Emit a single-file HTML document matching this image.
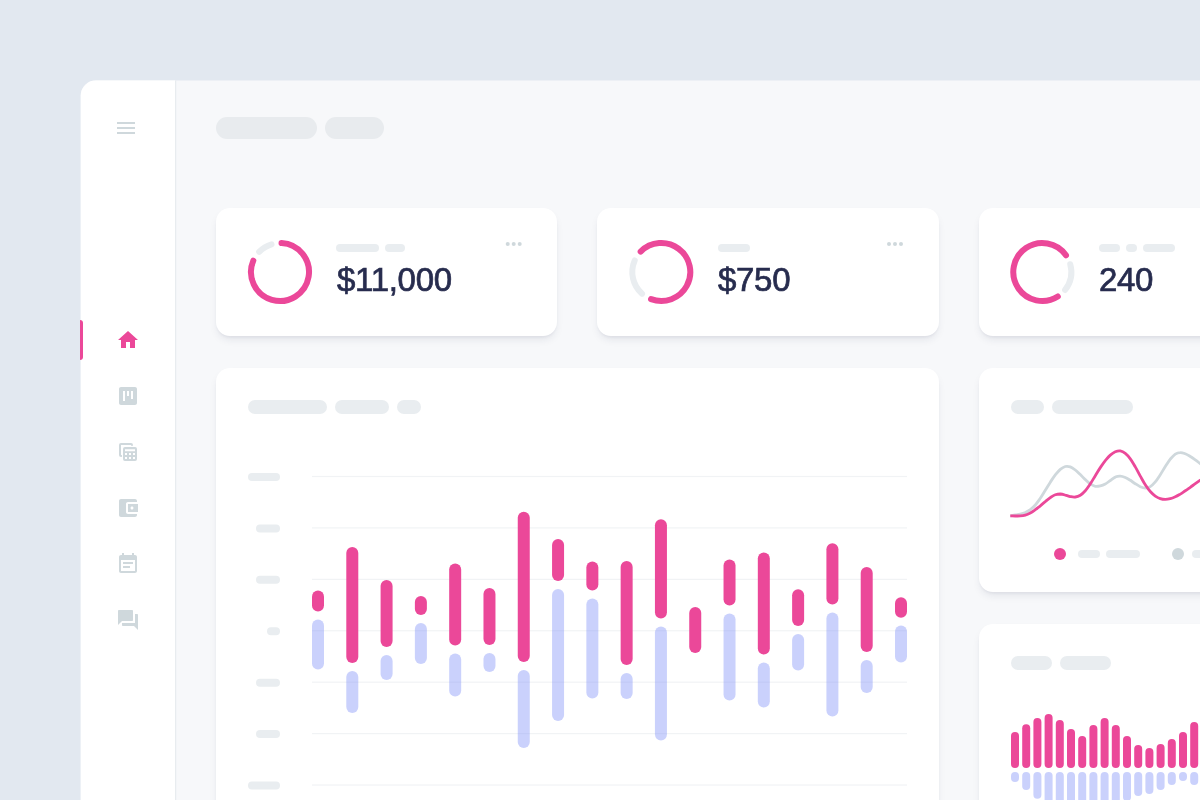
<!DOCTYPE html>
<html lang="en"><head><meta charset="utf-8"><title>Dashboard</title>
<style>
html,body{margin:0;padding:0}
body{width:1200px;height:800px;overflow:hidden;background:#E2E8F0;position:relative;font-family:"Liberation Sans",sans-serif}
.abs{position:absolute}
.panel{position:absolute;left:80.7px;top:80.45px;width:1140px;height:740px;background:#F7F8FA;border-top-left-radius:15px;overflow:hidden}
.side{position:absolute;left:0;top:0;width:94.6px;height:100%;background:#fff;border-right:1.1px solid #E6EAEE}
.card{position:absolute;background:#fff;border-radius:14px;box-shadow:0 5px 9px -2px rgba(30,41,80,.10),0 2px 3px -1px rgba(30,41,80,.06)}
.pill{position:absolute;background:#E9EDF0;border-radius:99px}
.num{position:absolute;color:#272C4E;font-size:33px;line-height:32px;letter-spacing:-0.3px;white-space:nowrap;-webkit-text-stroke:0.7px #272C4E}
svg{position:absolute;left:0;top:0;overflow:visible}
</style></head><body>
<svg width="1200" height="800" viewBox="0 0 1200 800">
<path d="M95.75 80.5H1200V800H80.75V95.5A15 15 0 0 1 95.75 80.5Z" fill="#F7F8FA"/>
<path d="M95.75 80.5H175.2V800H80.75V95.5A15 15 0 0 1 95.75 80.5Z" fill="#fff"/>
<rect x="175.1" y="80.5" width="1.1" height="720" fill="#E6EAEE"/>
</svg>
<div class="abs" style="left:80px;top:320px;width:3.2px;height:40px;background:#EB4899;border-radius:0 3px 3px 0"></div>

<!-- header placeholders -->
<div class="pill" style="left:216px;top:117px;width:101px;height:22px;background:#E8EBEE"></div>
<div class="pill" style="left:325px;top:117px;width:59px;height:22px;background:#E8EBEE"></div>

<!-- stat cards -->
<div class="card" style="left:215.8px;top:207.8px;width:341.4px;height:127.8px"></div>
<div class="card" style="left:597.2px;top:207.8px;width:341.4px;height:127.8px"></div>
<div class="card" style="left:978.7px;top:207.8px;width:341.4px;height:127.8px"></div>
<div class="pill" style="left:336px;top:244px;width:43px;height:8px"></div>
<div class="pill" style="left:385px;top:244px;width:20px;height:8px"></div>
<div class="pill" style="left:717.6px;top:244px;width:32px;height:8px"></div>
<div class="pill" style="left:1098.8px;top:244px;width:21px;height:8px"></div>
<div class="pill" style="left:1125.6px;top:244px;width:11.4px;height:8px"></div>
<div class="pill" style="left:1142.7px;top:244px;width:32.3px;height:8px"></div>
<div class="num" style="left:337px;top:263.8px">$11,000</div>
<div class="num" style="left:718px;top:263.8px">$750</div>
<div class="num" style="left:1099px;top:263.8px">240</div>

<!-- main chart card -->
<div class="card" style="left:215.8px;top:367.8px;width:722.8px;height:500px"></div>
<div class="pill" style="left:248px;top:400px;width:79px;height:14px"></div>
<div class="pill" style="left:335px;top:400px;width:54px;height:14px"></div>
<div class="pill" style="left:397px;top:400px;width:24px;height:14px"></div>

<!-- right cards -->
<div class="card" style="left:978.7px;top:367.8px;width:341.4px;height:223.8px"></div>
<div class="pill" style="left:1011px;top:400px;width:33px;height:14px"></div>
<div class="pill" style="left:1052px;top:400px;width:81px;height:14px"></div>
<div class="pill" style="left:1078px;top:550px;width:22px;height:8px"></div>
<div class="pill" style="left:1106px;top:550px;width:34px;height:8px"></div>
<div class="pill" style="left:1191.6px;top:550px;width:22px;height:8px"></div>
<div class="card" style="left:978.7px;top:623.8px;width:341.4px;height:300px"></div>
<div class="pill" style="left:1011px;top:656px;width:41px;height:14px"></div>
<div class="pill" style="left:1060px;top:656px;width:51px;height:14px"></div>

<svg width="1200" height="800" viewBox="0 0 1200 800">
<!-- donuts -->
<path d="M259.14 251.85A29 29 0 0 1 271.52 244.27" fill="none" stroke="#E9EDF0" stroke-width="6" stroke-linecap="round"/>
<path d="M281.52 243.04A29 29 0 1 1 253.31 260.67" fill="none" stroke="#EB4899" stroke-width="6" stroke-linecap="round"/>
<path d="M642.05 293.69A29 29 0 0 1 634.71 260.44" fill="none" stroke="#E9EDF0" stroke-width="6" stroke-linecap="round"/>
<path d="M640.65 251.64A29 29 0 1 1 651.05 299.13" fill="none" stroke="#EB4899" stroke-width="6" stroke-linecap="round"/>
<path d="M1070.25 264.25A29 29 0 0 1 1065.06 289.97" fill="none" stroke="#E9EDF0" stroke-width="6" stroke-linecap="round"/>
<path d="M1057.80 296.51A29 29 0 1 1 1065.97 255.24" fill="none" stroke="#EB4899" stroke-width="6" stroke-linecap="round"/>
<!-- more dots -->
<g fill="#CFD8DC">
<circle cx="507.7" cy="244" r="2"/><circle cx="513.7" cy="244" r="2"/><circle cx="519.7" cy="244" r="2"/>
<circle cx="889" cy="244" r="2"/><circle cx="895" cy="244" r="2"/><circle cx="901" cy="244" r="2"/>
</g>
<!-- main chart -->
<rect x="312" y="475.90" width="595" height="1.2" fill="#F1F3F5"/>
<rect x="312" y="527.32" width="595" height="1.2" fill="#F1F3F5"/>
<rect x="312" y="578.74" width="595" height="1.2" fill="#F1F3F5"/>
<rect x="312" y="630.16" width="595" height="1.2" fill="#F1F3F5"/>
<rect x="312" y="681.58" width="595" height="1.2" fill="#F1F3F5"/>
<rect x="312" y="733.00" width="595" height="1.2" fill="#F1F3F5"/>
<rect x="312" y="784.42" width="595" height="1.2" fill="#F1F3F5"/>
<rect x="312.00" y="590.5" width="12" height="21.0" rx="6" fill="#EB4899"/>
<rect x="312.00" y="619.5" width="12" height="50.0" rx="6" fill="rgba(128,146,248,0.42)"/>
<rect x="346.29" y="547" width="12" height="116" rx="6" fill="#EB4899"/>
<rect x="346.29" y="671" width="12" height="42" rx="6" fill="rgba(128,146,248,0.42)"/>
<rect x="380.59" y="580" width="12" height="67" rx="6" fill="#EB4899"/>
<rect x="380.59" y="655" width="12" height="25" rx="6" fill="rgba(128,146,248,0.42)"/>
<rect x="414.88" y="596" width="12" height="19" rx="6" fill="#EB4899"/>
<rect x="414.88" y="623" width="12" height="41" rx="6" fill="rgba(128,146,248,0.42)"/>
<rect x="449.18" y="563.5" width="12" height="82.0" rx="6" fill="#EB4899"/>
<rect x="449.18" y="653.5" width="12" height="43.0" rx="6" fill="rgba(128,146,248,0.42)"/>
<rect x="483.47" y="588" width="12" height="57" rx="6" fill="#EB4899"/>
<rect x="483.47" y="653" width="12" height="19" rx="6" fill="rgba(128,146,248,0.42)"/>
<rect x="517.76" y="511.75" width="12" height="150.25" rx="6" fill="#EB4899"/>
<rect x="517.76" y="670" width="12" height="78" rx="6" fill="rgba(128,146,248,0.42)"/>
<rect x="552.06" y="539" width="12" height="42" rx="6" fill="#EB4899"/>
<rect x="552.06" y="589" width="12" height="132" rx="6" fill="rgba(128,146,248,0.42)"/>
<rect x="586.35" y="561.5" width="12" height="29.0" rx="6" fill="#EB4899"/>
<rect x="586.35" y="598.5" width="12" height="100.0" rx="6" fill="rgba(128,146,248,0.42)"/>
<rect x="620.65" y="561" width="12" height="104" rx="6" fill="#EB4899"/>
<rect x="620.65" y="673" width="12" height="26" rx="6" fill="rgba(128,146,248,0.42)"/>
<rect x="654.94" y="519.25" width="12" height="99.25" rx="6" fill="#EB4899"/>
<rect x="654.94" y="626.5" width="12" height="114.0" rx="6" fill="rgba(128,146,248,0.42)"/>
<rect x="689.24" y="607" width="12" height="46" rx="6" fill="#EB4899"/>
<rect x="723.53" y="559.5" width="12" height="46.0" rx="6" fill="#EB4899"/>
<rect x="723.53" y="613.5" width="12" height="87.0" rx="6" fill="rgba(128,146,248,0.42)"/>
<rect x="757.82" y="552.5" width="12" height="102.0" rx="6" fill="#EB4899"/>
<rect x="757.82" y="662.5" width="12" height="45.0" rx="6" fill="rgba(128,146,248,0.42)"/>
<rect x="792.12" y="589.25" width="12" height="36.75" rx="6" fill="#EB4899"/>
<rect x="792.12" y="634" width="12" height="36.5" rx="6" fill="rgba(128,146,248,0.42)"/>
<rect x="826.41" y="543.25" width="12" height="61.25" rx="6" fill="#EB4899"/>
<rect x="826.41" y="612.5" width="12" height="104.0" rx="6" fill="rgba(128,146,248,0.42)"/>
<rect x="860.71" y="567" width="12" height="85" rx="6" fill="#EB4899"/>
<rect x="860.71" y="660" width="12" height="33" rx="6" fill="rgba(128,146,248,0.42)"/>
<rect x="895.00" y="597.3" width="12" height="20.40000000000009" rx="6" fill="#EB4899"/>
<rect x="895.00" y="625.5" width="12" height="37.10000000000002" rx="6" fill="rgba(128,146,248,0.42)"/>
<rect x="248" y="473.00" width="32" height="8" rx="4" fill="#E9EDF0"/>
<rect x="256" y="524.42" width="24" height="8" rx="4" fill="#E9EDF0"/>
<rect x="256" y="575.84" width="24" height="8" rx="4" fill="#E9EDF0"/>
<rect x="267" y="627.26" width="13" height="8" rx="4" fill="#E9EDF0"/>
<rect x="256" y="678.68" width="24" height="8" rx="4" fill="#E9EDF0"/>
<rect x="256" y="730.10" width="24" height="8" rx="4" fill="#E9EDF0"/>
<rect x="248" y="781.52" width="32" height="8" rx="4" fill="#E9EDF0"/>
<!-- line chart -->
<path d="M1010.3 515.8C1011.1 515.7 1013.6 515.3 1015.3 515.0C1017.0 514.7 1018.6 514.5 1020.3 514.0C1022.0 513.6 1023.6 513.2 1025.3 512.5C1027.0 511.7 1028.6 510.9 1030.3 509.6C1032.0 508.4 1033.6 506.9 1035.3 505.0C1037.0 503.1 1038.6 500.7 1040.3 498.3C1042.0 495.8 1043.6 493.0 1045.3 490.3C1047.0 487.7 1048.6 484.8 1050.3 482.2C1052.0 479.6 1053.6 477.1 1055.3 474.9C1057.0 472.8 1058.6 470.8 1060.3 469.4C1062.0 468.0 1063.6 467.0 1065.3 466.5C1067.0 466.1 1068.6 466.3 1070.3 466.9C1072.0 467.5 1073.6 468.7 1075.3 470.0C1077.0 471.3 1078.6 473.0 1080.3 474.6C1082.0 476.2 1083.6 478.1 1085.3 479.6C1087.0 481.2 1088.6 482.8 1090.3 483.9C1092.0 485.0 1093.6 486.0 1095.3 486.3C1097.0 486.6 1098.6 486.3 1100.3 485.9C1102.0 485.5 1103.6 484.9 1105.3 484.0C1107.0 483.1 1108.6 481.6 1110.3 480.5C1112.0 479.3 1113.6 477.8 1115.3 477.1C1117.0 476.3 1118.6 476.0 1120.3 476.1C1122.0 476.2 1123.6 476.8 1125.3 477.5C1127.0 478.2 1128.6 479.3 1130.3 480.3C1132.0 481.4 1133.6 482.7 1135.3 483.7C1137.0 484.8 1138.6 485.9 1140.3 486.7C1142.0 487.4 1143.6 488.0 1145.3 488.0C1147.0 488.0 1148.6 487.7 1150.3 486.6C1152.0 485.6 1153.6 483.9 1155.3 481.9C1157.0 479.9 1158.6 477.2 1160.3 474.7C1162.0 472.1 1163.6 469.2 1165.3 466.6C1167.0 464.0 1168.6 461.2 1170.3 459.1C1172.0 457.1 1173.6 455.2 1175.3 454.1C1177.0 453.0 1178.6 452.6 1180.3 452.6C1182.0 452.5 1183.6 453.2 1185.3 453.8C1187.0 454.5 1188.6 455.5 1190.3 456.5C1192.0 457.5 1193.6 458.7 1195.3 459.9C1197.0 461.1 1198.6 462.4 1200.3 463.7C1202.0 465.0 1203.6 466.3 1205.3 467.5C1207.0 468.7 1209.5 470.4 1210.3 471.0" fill="none" stroke="#CFD8DC" stroke-width="2.8" stroke-linecap="butt" stroke-linejoin="round"/>
<path d="M1010.3 515.8C1011.1 515.8 1013.6 516.0 1015.3 516.0C1017.0 516.0 1018.6 516.1 1020.3 515.9C1022.0 515.8 1023.6 515.6 1025.3 515.1C1027.0 514.6 1028.6 513.9 1030.3 513.0C1032.0 512.1 1033.6 510.9 1035.3 509.7C1037.0 508.5 1038.6 507.1 1040.3 505.8C1042.0 504.4 1043.6 502.9 1045.3 501.6C1047.0 500.2 1048.6 498.8 1050.3 497.6C1052.0 496.5 1053.6 495.4 1055.3 494.8C1057.0 494.2 1058.6 494.0 1060.3 494.0C1062.0 494.1 1063.6 494.6 1065.3 495.1C1067.0 495.5 1068.6 496.2 1070.3 496.6C1072.0 496.9 1073.6 497.3 1075.3 497.0C1077.0 496.8 1078.6 496.3 1080.3 495.2C1082.0 494.2 1083.6 492.6 1085.3 490.7C1087.0 488.9 1088.6 486.4 1090.3 483.9C1092.0 481.4 1093.6 478.4 1095.3 475.7C1097.0 472.9 1098.6 470.1 1100.3 467.6C1102.0 465.1 1103.6 462.7 1105.3 460.6C1107.0 458.6 1108.6 456.6 1110.3 455.1C1112.0 453.6 1113.6 452.4 1115.3 451.7C1117.0 451.0 1118.6 450.6 1120.3 450.9C1122.0 451.2 1123.6 452.0 1125.3 453.3C1127.0 454.6 1128.6 456.5 1130.3 458.8C1132.0 461.0 1133.6 464.0 1135.3 466.9C1137.0 469.8 1138.6 473.1 1140.3 476.1C1142.0 479.1 1143.6 482.2 1145.3 484.8C1147.0 487.4 1148.6 489.7 1150.3 491.5C1152.0 493.4 1153.6 494.9 1155.3 496.1C1157.0 497.3 1158.6 498.1 1160.3 498.6C1162.0 499.2 1163.6 499.4 1165.3 499.4C1167.0 499.4 1168.6 499.1 1170.3 498.7C1172.0 498.3 1173.6 497.6 1175.3 496.8C1177.0 496.1 1178.6 495.1 1180.3 494.1C1182.0 493.1 1183.6 491.9 1185.3 490.8C1187.0 489.7 1188.6 488.5 1190.3 487.3C1192.0 486.1 1193.6 484.9 1195.3 483.7C1197.0 482.5 1198.6 481.4 1200.3 480.2C1202.0 479.0 1203.6 477.9 1205.3 476.8C1207.0 475.7 1209.5 474.0 1210.3 473.5" fill="none" stroke="#EB4899" stroke-width="2.8" stroke-linecap="butt" stroke-linejoin="round"/>
<circle cx="1060" cy="554" r="6" fill="#EB4899"/>
<circle cx="1178" cy="554" r="6" fill="#CFD8DC"/>
<!-- small bars -->
<rect x="1011.00" y="732" width="8" height="36" rx="4" fill="#EB4899"/>
<rect x="1011.00" y="772" width="8" height="10.0" rx="4" fill="rgba(128,146,248,0.42)"/>
<rect x="1022.20" y="724.2" width="8" height="43.799999999999955" rx="4" fill="#EB4899"/>
<rect x="1022.20" y="772" width="8" height="18.0" rx="4" fill="rgba(128,146,248,0.42)"/>
<rect x="1033.40" y="718" width="8" height="50" rx="4" fill="#EB4899"/>
<rect x="1033.40" y="772" width="8" height="26.7" rx="4" fill="rgba(128,146,248,0.42)"/>
<rect x="1044.60" y="714" width="8" height="54" rx="4" fill="#EB4899"/>
<rect x="1044.60" y="772" width="8" height="34.0" rx="4" fill="rgba(128,146,248,0.42)"/>
<rect x="1055.80" y="720" width="8" height="48" rx="4" fill="#EB4899"/>
<rect x="1055.80" y="772" width="8" height="40.0" rx="4" fill="rgba(128,146,248,0.42)"/>
<rect x="1067.00" y="729" width="8" height="39" rx="4" fill="#EB4899"/>
<rect x="1067.00" y="772" width="8" height="44.0" rx="4" fill="rgba(128,146,248,0.42)"/>
<rect x="1078.20" y="736" width="8" height="32" rx="4" fill="#EB4899"/>
<rect x="1078.20" y="772" width="8" height="46.0" rx="4" fill="rgba(128,146,248,0.42)"/>
<rect x="1089.40" y="725" width="8" height="43" rx="4" fill="#EB4899"/>
<rect x="1089.40" y="772" width="8" height="44.0" rx="4" fill="rgba(128,146,248,0.42)"/>
<rect x="1100.60" y="718" width="8" height="50" rx="4" fill="#EB4899"/>
<rect x="1100.60" y="772" width="8" height="40.0" rx="4" fill="rgba(128,146,248,0.42)"/>
<rect x="1111.80" y="725" width="8" height="43" rx="4" fill="#EB4899"/>
<rect x="1111.80" y="772" width="8" height="34.0" rx="4" fill="rgba(128,146,248,0.42)"/>
<rect x="1123.00" y="736" width="8" height="32" rx="4" fill="#EB4899"/>
<rect x="1123.00" y="772" width="8" height="29.0" rx="4" fill="rgba(128,146,248,0.42)"/>
<rect x="1134.20" y="745" width="8" height="23" rx="4" fill="#EB4899"/>
<rect x="1134.20" y="772" width="8" height="24.0" rx="4" fill="rgba(128,146,248,0.42)"/>
<rect x="1145.40" y="748" width="8" height="20" rx="4" fill="#EB4899"/>
<rect x="1145.40" y="772" width="8" height="22.0" rx="4" fill="rgba(128,146,248,0.42)"/>
<rect x="1156.60" y="744" width="8" height="24" rx="4" fill="#EB4899"/>
<rect x="1156.60" y="772" width="8" height="18.0" rx="4" fill="rgba(128,146,248,0.42)"/>
<rect x="1167.80" y="739" width="8" height="29" rx="4" fill="#EB4899"/>
<rect x="1167.80" y="772" width="8" height="13.0" rx="4" fill="rgba(128,146,248,0.42)"/>
<rect x="1179.00" y="732" width="8" height="36" rx="4" fill="#EB4899"/>
<rect x="1179.00" y="772" width="8" height="9.0" rx="4" fill="rgba(128,146,248,0.42)"/>
<rect x="1190.20" y="722" width="8" height="46" rx="4" fill="#EB4899"/>
<rect x="1190.20" y="772" width="8" height="13.0" rx="4" fill="rgba(128,146,248,0.42)"/>
<rect x="1201.40" y="716" width="8" height="52" rx="4" fill="#EB4899"/>
<rect x="1201.40" y="772" width="8" height="18.0" rx="4" fill="rgba(128,146,248,0.42)"/>
<!-- sidebar icons -->
<g fill="#CFD8DC">
<path transform="translate(114 116)" d="M3 18h18v-2H3v2zm0-5h18v-2H3v2zm0-7v2h18V6H3z"/>
<path transform="translate(116 384)" d="M19 3H5c-1.1 0-2 .9-2 2v14c0 1.1.9 2 2 2h14c1.1 0 2-.9 2-2V5c0-1.1-.9-2-2-2zM9 17H7V7h2v10zm4-5h-2V7h2v5zm4 3h-2V7h2v8z"/>
<g transform="translate(116 440)">
<path d="M16 5.8V5a1 1 0 0 0-1-1H5a1 1 0 0 0-1 1v10a1 1 0 0 0 1 1h0.9" fill="none" stroke="#CFD8DC" stroke-width="2"/>
<path fill-rule="evenodd" d="M9 7h10a2 2 0 0 1 2 2v10a2 2 0 0 1-2 2H9a2 2 0 0 1-2-2V9a2 2 0 0 1 2-2zM9 9.2v2h10v-2zM9 13v2h2v-2zm4 0v2h2v-2zm4 0v2h2v-2zM9 17v2h2v-2zm4 0v2h2v-2zm4 0v2h2v-2z"/>
</g>
<path transform="translate(116 496)" d="M21 18v1c0 1.1-.9 2-2 2H5c-1.11 0-2-.9-2-2V5c0-1.1.89-2 2-2h14c1.1 0 2 .9 2 2v1h-9c-1.11 0-2 .9-2 2v8c0 1.1.89 2 2 2h9zm-9-2h10V8H12v8zm4-2.500c-.83 0-1.500-.67-1.500-1.500s.67-1.500 1.500-1.500 1.500.67 1.500 1.500-.67 1.500-1.500 1.500z"/>
<path transform="translate(116 552)" d="M17 10H7v2h10v-2zm2-7h-1V1h-2v2H8V1H6v2H5c-1.110 0-1.990.9-1.990 2L3 19c0 1.100.89 2 2 2h14c1.100 0 2-.9 2-2V5c0-1.100-.9-2-2-2zm0 16H5V8h14v11zm-5-5H7v2h7v-2z"/>
<path transform="translate(116 608)" d="M21 6h-2v9H6v2c0 .55.45 1 1 1h11l4 4V7c0-.55-.45-1-1-1zm-4 6V3c0-.55-.45-1-1-1H3c-.55 0-1 .45-1 1v14l4-4h10c.55 0 1-.45 1-1z"/>
</g>
<path transform="translate(116 328)" fill="#EB4899" d="M10 20v-6h4v6h5v-8h3L12 3 2 12h3v8z"/>
</svg>
</body></html>
